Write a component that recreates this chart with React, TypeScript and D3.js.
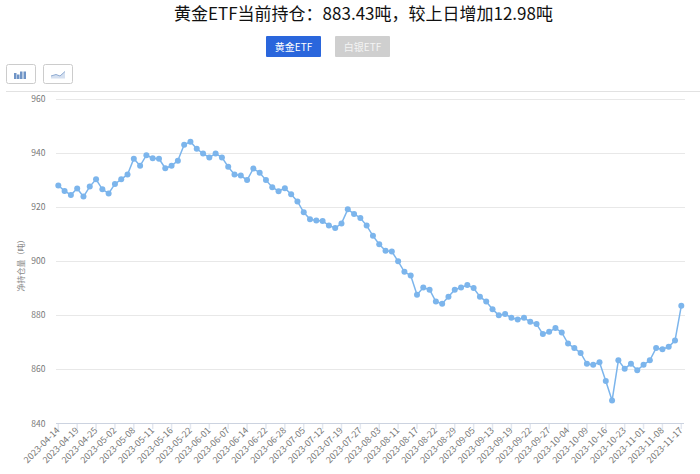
import * as d3 from "d3"

const title = "黄金ETF当前持仓：883.43吨，较上日增加12.98吨"
const yLabel = "净持仓量（吨）"
const yTicks = [840, 860, 880, 900, 920, 940, 960]

const tickLabels = [
  "2023-04-14", "2023-04-19", "2023-04-25", "2023-05-02", "2023-05-08", "2023-05-11", "2023-05-16",
  "2023-05-22", "2023-06-01", "2023-06-07", "2023-06-14", "2023-06-22", "2023-06-28", "2023-07-05",
  "2023-07-12", "2023-07-19", "2023-07-27", "2023-08-03", "2023-08-11", "2023-08-17", "2023-08-22",
  "2023-08-29", "2023-09-05", "2023-09-13", "2023-09-19", "2023-09-22", "2023-09-27", "2023-10-04",
  "2023-10-09", "2023-10-16", "2023-10-23", "2023-11-01", "2023-11-08", "2023-11-17",
]

const holdings = [
  927.9, 925.9, 924.4, 926.8, 923.8, 927.5, 930.2, 926.5, 925, 928.5,
  930.2, 932, 937.8, 935.2, 939.1, 938, 937.8, 934.3, 935.2, 937.1,
  943, 944.1, 941.5, 939.7, 938.3, 939.7, 938.3, 934.8, 932, 931.6,
  929.9, 934.2, 932.6, 929.9, 927.3, 925.8, 926.9, 924.7, 922, 918,
  915.4, 915, 914.8, 913.1, 912.2, 913.9, 919.1, 917.4, 915.9, 913.1,
  909.3, 906.2, 903.8, 903.5, 899.9, 896, 894.6, 887.5, 890.2, 889.4,
  885, 884.2, 886.8, 889.4, 890.2, 891.1, 890, 886.8, 885, 882.2,
  879.9, 880.4, 879, 878.4, 879, 877.5, 876.7, 873, 873.8, 875.2,
  873.6, 869.5, 867.8, 866, 862, 861.6, 862.6, 855.6, 848.4, 863.3,
  860.2, 862, 859.6, 861.6, 863.3, 867.8, 867.4, 868.3, 870.6, 883.43,
]

const tickEvery = 3
const cjk = "'Noto Sans CJK SC', sans-serif"

export default function App() {
  const x = d3.scalePoint<number>().domain(d3.range(holdings.length)).range([58.3, 681.3])
  const y = d3.scaleLinear().domain([840, 960]).range([423.3, 98.7])
  const line = d3
    .line<number>()
    .x((_, i) => x(i) as number)
    .y((d) => y(d))

  return (
    <svg
      width={700}
      height={474}
      viewBox="0 0 700 474"
      style={{ position: "absolute", left: 0, top: 0, background: "#fff" }}
    >
      <text x={363.5} y={19.8} textAnchor="middle" fontFamily={cjk} fontSize={17} fill="#111">
        {title}
      </text>

      <rect x={266} y={36} width={55} height={21} rx={1} fill="#2a66dc" />
      <text x={293.5} y={50.5} textAnchor="middle" fontFamily={cjk} fontSize={10} fill="#fff">
        黄金ETF
      </text>
      <rect x={335} y={36} width={55} height={21} rx={1} fill="#cfcfcf" />
      <text x={362.5} y={50.5} textAnchor="middle" fontFamily={cjk} fontSize={10} fill="#f4f4f4">
        白银ETF
      </text>

      <rect x={6.5} y={64.5} width={29} height={19} rx={2} fill="#fff" stroke="#ccc" />
      <g fill="#6f94c6">
        {[14, 17, 20, 23.5].map((bx, i) => (
          <rect key={bx} x={bx} y={[73, 74.5, 71.5, 71.5][i]} width={2.5} height={[6, 4.5, 7.5, 7.5][i]} />
        ))}
      </g>
      <rect x={43.5} y={64.5} width={29} height={19} rx={2} fill="#fff" stroke="#ccc" />
      <path d="M51 76 L56 74.5 L60 76 L65 71.5 L65 78.5 L51 78.5 Z" fill="#d5e0f0" />
      <path d="M51 76 L56 74.5 L60 76 L65 71.5" fill="none" stroke="#8fabd2" strokeWidth={1} />

      <line x1={6} x2={700} y1={91.5} y2={91.5} stroke="#e2e2e2" />

      {yTicks.map((t) => (
        <g key={t}>
          {t !== 840 && (
            <line x1={56} x2={685} y1={Math.round(y(t)) + 0.5} y2={Math.round(y(t)) + 0.5} stroke="#e8e8e8" />
          )}
          <text x={45.5} y={y(t) + 3.2} textAnchor="end" fontFamily={cjk} fontSize={8.5} fill="#777">
            {t}
          </text>
        </g>
      ))}

      <text
        transform="translate(24,263.5) rotate(-90)"
        textAnchor="middle"
        fontFamily={cjk}
        fontSize={8}
        fill="#888"
      >
        {yLabel}
      </text>

      <line x1={56} x2={684} y1={423.5} y2={423.5} stroke="#ccd3e0" />
      {tickLabels.map((label, i) => {
        const tx = x(i * tickEvery) as number
        return (
          <g key={label}>
            <line x1={tx} x2={tx} y1={424} y2={429} stroke="#e3e7ef" strokeWidth={1.5} />
            <text
              transform={`translate(${tx + 2},${431}) rotate(-45)`}
              textAnchor="end"
              fontFamily={cjk}
              fontSize={9}
              fill="#777"
            >
              {label}
            </text>
          </g>
        )
      })}

      <path d={line(holdings) ?? ""} fill="none" stroke="#7cb5ec" strokeWidth={1.5} />
      {holdings.map((d, i) => (
        <circle key={i} cx={x(i)} cy={y(d)} r={3} fill="#7cb5ec" />
      ))}
    </svg>
  )
}
